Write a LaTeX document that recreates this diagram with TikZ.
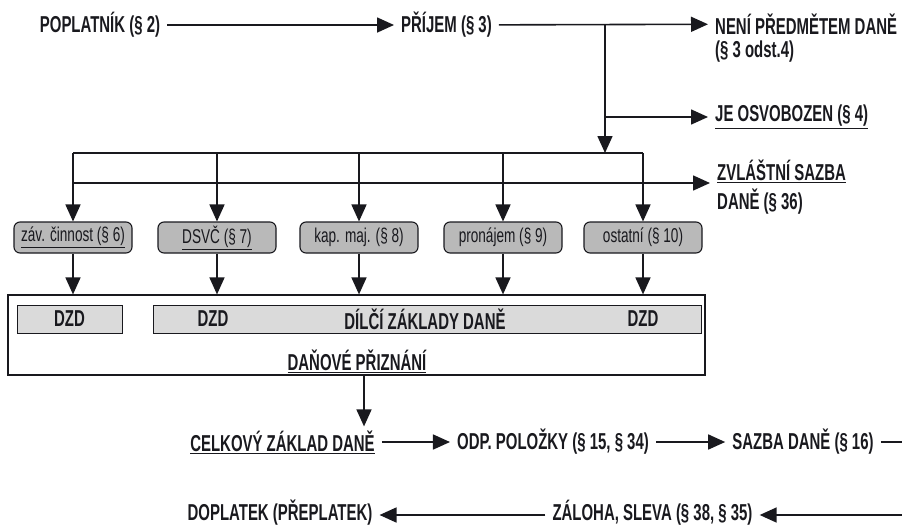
\documentclass[tikz,border=0pt]{standalone}
\usepackage{fontspec}
\setmainfont{Liberation Sans}[FakeStretch=0.65]
\newfontfamily\boxfont{Liberation Sans}[FakeStretch=0.68]
\usetikzlibrary{arrows.meta}
\definecolor{ink}{RGB}{25,25,30}
\definecolor{catfill}{RGB}{185,185,185}
\definecolor{dzdfill}{RGB}{218,218,218}
\begin{document}
\begin{tikzpicture}[x=1pt,y=-1pt,
  lab/.style={font=\bfseries\fontsize{23}{27}\selectfont, inner xsep=7pt, inner ysep=0pt, text=ink},
  cat/.style={draw=ink, rounded corners=6pt, fill=catfill, minimum width=118pt, minimum height=31pt, inner sep=0pt, font=\boxfont\fontsize{20}{22}\selectfont, text=ink, line width=1.1pt},
  dzdbox/.style={draw=ink, fill=dzdfill, line width=1pt, minimum height=28pt, inner sep=0pt, font=\bfseries\fontsize{23}{27}\selectfont, text=ink},
  dzdtext/.style={font=\bfseries\fontsize{23}{27}\selectfont, text=ink, inner sep=0pt},
  arr/.style={draw=ink, line width=1.6pt, -{Triangle[length=17pt,width=15pt]}},
  ln/.style={draw=ink, line width=1.6pt},
  ]
\useasboundingbox (0,0) rectangle (902,528);

% top row
\node[lab] (pop) at (100,25) {POPLATNÍK (§ 2)};
\node[lab] (prij) at (446.5,25) {PŘÍJEM (§ 3)};
\node[lab,anchor=west] (neni) at (708,24) {NENÍ PŘEDMĚTEM DANĚ};
\node[lab,anchor=west] (neni2) at (708,52) {(§ 3 odst.4)};
\node[lab,anchor=west] (je) at (708,117) {\underline{JE OSVOBOZEN (§ 4)}};
\node[lab,anchor=west,align=left] (zvl) at (710,187) {\underline{ZVLÁŠTNÍ SAZBA}\\[2pt]DANĚ (§ 36)};

\draw[arr] (pop) -- (prij);
\draw[arr] (prij) -- (neni);

\coordinate (j1) at (605,25);
\coordinate (j2) at (605,117);
\coordinate (bus) at (605,153);
\draw[arr] (j1) -- (bus);
\draw[arr] (j2) -- (je.west |- j2);

% category boxes
\node[cat] (k1) at (73,237.5) {\underline{záv. činnost (§ 6)}};
\node[cat] (k2) at (217,237.5) {\underline{DSVČ (§ 7)}};
\node[cat] (k3) at (359,237.5) {kap. maj. (§ 8)};
\node[cat] (k4) at (503,237.5) {pronájem (§ 9)};
\node[cat] (k5) at (643,237.5) {ostatní (§ 10)};

\coordinate (b1) at (73,153);
\coordinate (b2) at (217,153);
\coordinate (b3) at (359,153);
\coordinate (b4) at (503,153);
\coordinate (b5) at (643,153);
\draw[ln] (b1) -- (b5);
\foreach \i in {1,...,5} {\draw[arr] (b\i) -- (k\i.north);}

\coordinate (z0) at (73,183);
\draw[arr] (z0) -- (zvl.west |- z0);

% tax return
\node[draw=ink, line width=1.2pt, minimum width=697pt, minimum height=80pt, inner sep=0pt] (dp) at (356.5,335) {};
\foreach \i in {1,...,5} {\draw[arr] (k\i.south) -- (k\i.south |- dp.north);}
\node[dzdbox, minimum width=105pt] (da) at (69.5,319) {DZD};
\node[dzdbox, minimum width=548pt] (db) at (427,319) {};
\node[dzdtext] (t1) at (213,319) {DZD};
\node[dzdtext] (t2) at (425,319) {DÍLČÍ ZÁKLADY DANĚ};
\node[dzdtext] (t3) at (643,319) {DZD};
\node[dzdtext] (dpt) at (357,361) {\underline{DAŇOVÉ PŘIZNÁNÍ}};

% bottom
\node[lab] (celk) at (282.5,442) {\underline{CELKOVÝ ZÁKLAD DANĚ}};
\node[lab] (odp) at (553,442) {ODP. POLOŽKY (§ 15, § 34)};
\node[lab] (saz) at (803,442) {SAZBA DANĚ (§ 16)};
\node[lab] (zal) at (652.5,513) {ZÁLOHA, SLEVA (§ 38, § 35)};
\node[lab] (dopl) at (280,513) {DOPLATEK (PŘEPLATEK)};

\draw[arr, shorten >=4pt] ([xshift=7.5pt]dp.south) -- ([xshift=7.5pt]dp.south |- celk.north);
\draw[arr] (celk) -- (odp);
\draw[arr] (odp) -- (saz);
\coordinate (r1) at (906,442);
\coordinate (r2) at (906,515);
\draw[arr] (saz.east) -- (r1) -- (r2) -- (zal.east |- r2);
\draw[arr] (zal.west |- r2) -- (dopl.east |- r2);
\end{tikzpicture}
\end{document}
